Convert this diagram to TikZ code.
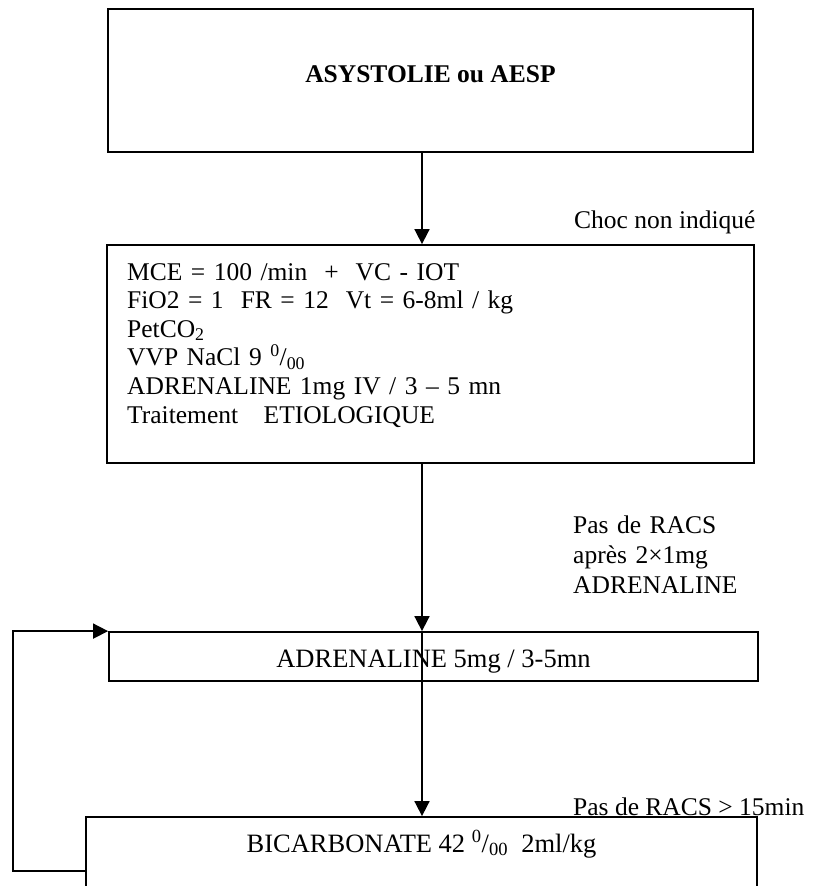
\documentclass[tikz,border=0pt]{standalone}
\usepackage{fontspec}
\setmainfont{Liberation Serif}
\usetikzlibrary{arrows.meta}
\begin{document}
\begin{tikzpicture}[x=1pt,y=-1pt,
  box/.style={draw,line width=1.8pt,inner sep=0pt,rectangle},
  arr/.style={line width=1.7pt,-{Triangle[length=15pt,width=15pt]}},
  txt/.style={inner sep=0pt,font=\fontsize{25.5}{28.6}\selectfont},
  big/.style={inner sep=0pt,font=\fontsize{26.5}{30}\selectfont},
  lbl/.style={inner sep=0pt,font=\fontsize{25.5}{30}\selectfont}]
\useasboundingbox (0,0) rectangle (820,886);
% boxes
\node[box,minimum width=645pt,minimum height=143pt] (b1) at (430.5,80.5) {};
\node[box,minimum width=647pt,minimum height=218pt] (b2) at (430.5,354) {};
\node[box,minimum width=649pt,minimum height=49pt] (b3) at (433.5,656.5) {};
\node[box,minimum width=671pt,minimum height=108pt] (b4) at (421.5,871) {};
% texts
\node[txt,anchor=base,font=\fontsize{25.5}{28.6}\selectfont\bfseries] (t1) at (430.5,82) {ASYSTOLIE ou AESP};
\node[txt,anchor=base west,text width=600pt,align=left] (t2) at (127,280)
  {MCE = 100 /min \ + \ VC - IOT\\
   FiO2 = 1 \ FR = 12 \ Vt = 6-8ml / kg\\
   PetCO\textsubscript{2}\\
   VVP NaCl 9 \textsuperscript{0}/\textsubscript{00}\\
   ADRENALINE 1mg IV / 3 – 5 mn\\
   Traitement \ \ ETIOLOGIQUE};
\node[big,anchor=base] (t3) at (433.5,667) {ADRENALINE 5mg / 3-5mn};
\node[big,anchor=base] (t4) at (421.5,852) {BICARBONATE 42 \textsuperscript{0}/\textsubscript{00} \ 2ml/kg};
% labels
\node[lbl,anchor=base west] (l1) at (574,228) {Choc non indiqué};
\node[lbl,anchor=base west,text width=240pt,align=left] (l2) at (573,533)
  {Pas de RACS\\après 2×1mg\\ADRENALINE};
\node[lbl,anchor=base west] (l3) at (573,815) {Pas de RACS > 15min};
% connectors
\coordinate (ax) at (422,0);
\coordinate (lx) at (13,0);
\draw[arr] (b1.south -| ax) -- (b2.north -| ax);
\draw[arr] (b2.south -| ax) -- (b3.north -| ax);
\draw[arr] (b3.north -| ax) -- (b4.north -| ax);
\draw[arr] (b4.west) -- (b4.west -| lx) -- (b3.north west -| lx) -- (b3.north west);
\end{tikzpicture}
\end{document}
